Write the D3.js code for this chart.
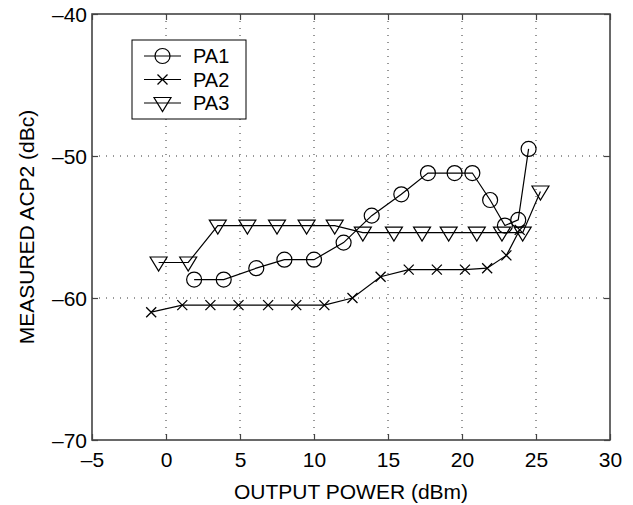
<!DOCTYPE html>
<meta charset="utf-8">
<style>
body { margin: 0; background: #fff; }
svg text { font-family: "Liberation Sans", Arial, Helvetica, sans-serif; fill: #000; }
</style>
<body>
<script src="https://d3js.org/d3.v7.min.js"></script>
<script>

// data
var pa1X = [1.9, 3.9, 6.1, 8.0, 10.0, 12.0, 13.9, 15.9, 17.7, 19.5, 20.7, 21.9, 22.9, 23.8, 24.5];
var pa1Y = [-58.7, -58.7, -57.9, -57.3, -57.3, -56.1, -54.2, -52.7, -51.2, -51.2, -51.2, -53.1, -54.9, -54.5, -49.5];

var pa2X = [-1.0, 1.1, 3.0, 4.9, 6.9, 8.8, 10.7, 12.6, 14.5, 16.4, 18.3, 20.2, 21.7, 23.0, 23.9];
var pa2Y = [-61.0, -60.5, -60.5, -60.5, -60.5, -60.5, -60.5, -60.0, -58.5, -58.0, -58.0, -58.0, -57.9, -57.0, -55.2];

var pa3X = [-0.5, 1.5, 3.5, 5.5, 7.5, 9.5, 11.4, 13.3, 15.4, 17.3, 19.1, 21.0, 22.7, 24.1, 25.3];
var pa3Y = [-57.5, -57.5, -54.9, -54.9, -54.9, -54.9, -54.9, -55.4, -55.4, -55.4, -55.4, -55.4, -55.4, -55.4, -52.5];

var seriesNames = ["PA1", "PA2", "PA3"];
var markers = ["circle", "cross", "tri"];
var xTicks = [-5, 0, 5, 10, 15, 20, 25, 30];
var yTicks = [-70, -60, -50, -40];

//SVG setup
var margin = {top: 14, right: 23, bottom: 65, left: 92},
    width = 633 - margin.left - margin.right,
    height = 505 - margin.top - margin.bottom;

var x = d3.scaleLinear().domain([-5, 30]).range([0, width]);
var y = d3.scaleLinear().domain([-70, -40]).range([height, 0]);

var svg = d3.select("body").append("svg")
    .attr("width", 633)
    .attr("height", 505);

var g = svg.append("g")
    .attr("transform", `translate(${margin.left}, ${margin.top})`);

var fmt = d => (d < 0 ? "\u2013" + Math.abs(d) : "" + d);

// dotted grid
g.selectAll(".gx").data(xTicks.slice(1, -1)).enter().append("line")
    .attr("x1", d => x(d)).attr("x2", d => x(d))
    .attr("y1", 0).attr("y2", height)
    .attr("stroke", "#333").attr("stroke-width", 1)
    .attr("stroke-dasharray", "1,6");
g.selectAll(".gy").data(yTicks.slice(1, -1)).enter().append("line")
    .attr("y1", d => y(d)).attr("y2", d => y(d))
    .attr("x1", 0).attr("x2", width)
    .attr("stroke", "#333").attr("stroke-width", 1)
    .attr("stroke-dasharray", "1,6");

// axes, ticks inside, mirrored on top/right
var tick = 6;
var xb = g.append("g")
  .attr("transform", `translate(0,${height})`)
  .call(d3.axisBottom(x).tickValues(xTicks).tickFormat(fmt).tickSizeInner(-tick).tickSizeOuter(0));
xb.selectAll(".tick text").attr("y", 27).attr("dy", 0);
g.append("g")
  .call(d3.axisTop(x).tickValues(xTicks).tickFormat("").tickSizeInner(-tick).tickSizeOuter(0));
var yl = g.append("g")
  .call(d3.axisLeft(y).tickValues(yTicks).tickFormat(fmt).tickSizeInner(-tick).tickSizeOuter(0));
yl.selectAll(".tick text").attr("x", -5).attr("dy", "0.36em");
g.append("g")
  .attr("transform", `translate(${width},0)`)
  .call(d3.axisRight(y).tickValues(yTicks).tickFormat("").tickSizeInner(-tick).tickSizeOuter(0));

g.selectAll(".domain").remove();
g.selectAll(".tick line").attr("stroke", "#444").attr("stroke-width", 1.2);
g.selectAll(".tick text").attr("font-size", 21).attr("fill", "#000")
  .attr("font-family", "Liberation Sans, Arial, sans-serif");

g.append("rect")
  .attr("width", width).attr("height", height)
  .attr("fill", "none").attr("stroke", "#444").attr("stroke-width", 1.6);

// marker drawing
function drawMarker(sel, kind) {
  if (kind === "circle") {
    sel.append("circle").attr("r", 7.5)
      .attr("fill", "none").attr("stroke", "#000").attr("stroke-width", 1.2);
  } else if (kind === "cross") {
    sel.append("path").attr("d", "M-5,-5L5,5M-5,5L5,-5")
      .attr("fill", "none").attr("stroke", "#000").attr("stroke-width", 1.3);
  } else {
    sel.append("path").attr("d", "M-8.5,-5.5L8.5,-5.5L0,8.5Z")
      .attr("fill", "none").attr("stroke", "#000").attr("stroke-width", 1.2);
  }
}

var allX = [pa1X, pa2X, pa3X];
var allY = [pa1Y, pa2Y, pa3Y];
var line = d3.line().x(d => x(d[0])).y(d => y(d[1]));

allX.forEach(function(xs, i) {
  var pts = xs.map((v, j) => [v, allY[i][j]]);
  g.append("path").datum(pts)
    .attr("d", line)
    .attr("fill", "none").attr("stroke", "#000").attr("stroke-width", 1.2);
  g.selectAll(".m" + i).data(pts).enter().append("g")
    .attr("transform", d => `translate(${x(d[0])},${y(d[1])})`)
    .each(function() { drawMarker(d3.select(this), markers[i]); });
});

// legend
var leg = svg.append("g").attr("transform", "translate(132,40)");
leg.append("rect").attr("width", 114).attr("height", 79)
  .attr("fill", "#fff").attr("stroke", "#000").attr("stroke-width", 1);
seriesNames.forEach(function(name, i) {
  var ly = 16 + i * 23.5;
  leg.append("line").attr("x1", 12).attr("x2", 49).attr("y1", ly).attr("y2", ly)
    .attr("stroke", "#000").attr("stroke-width", 1.2);
  var mg = leg.append("g").attr("transform", `translate(30.5,${ly})`);
  drawMarker(mg, markers[i]);
  leg.append("text").attr("x", 61).attr("y", ly).attr("dy", "0.36em")
    .attr("font-size", 20).text(name);
});

// axis titles
svg.append("text")
  .attr("x", margin.left + width / 2).attr("y", 499)
  .attr("text-anchor", "middle").attr("font-size", 21)
  .text("OUTPUT POWER (dBm)");
svg.append("text")
  .attr("transform", `translate(34,${margin.top + height / 2}) rotate(-90)`)
  .attr("text-anchor", "middle").attr("font-size", 21)
  .text("MEASURED ACP2 (dBc)");

</script>
</body>
</html>
